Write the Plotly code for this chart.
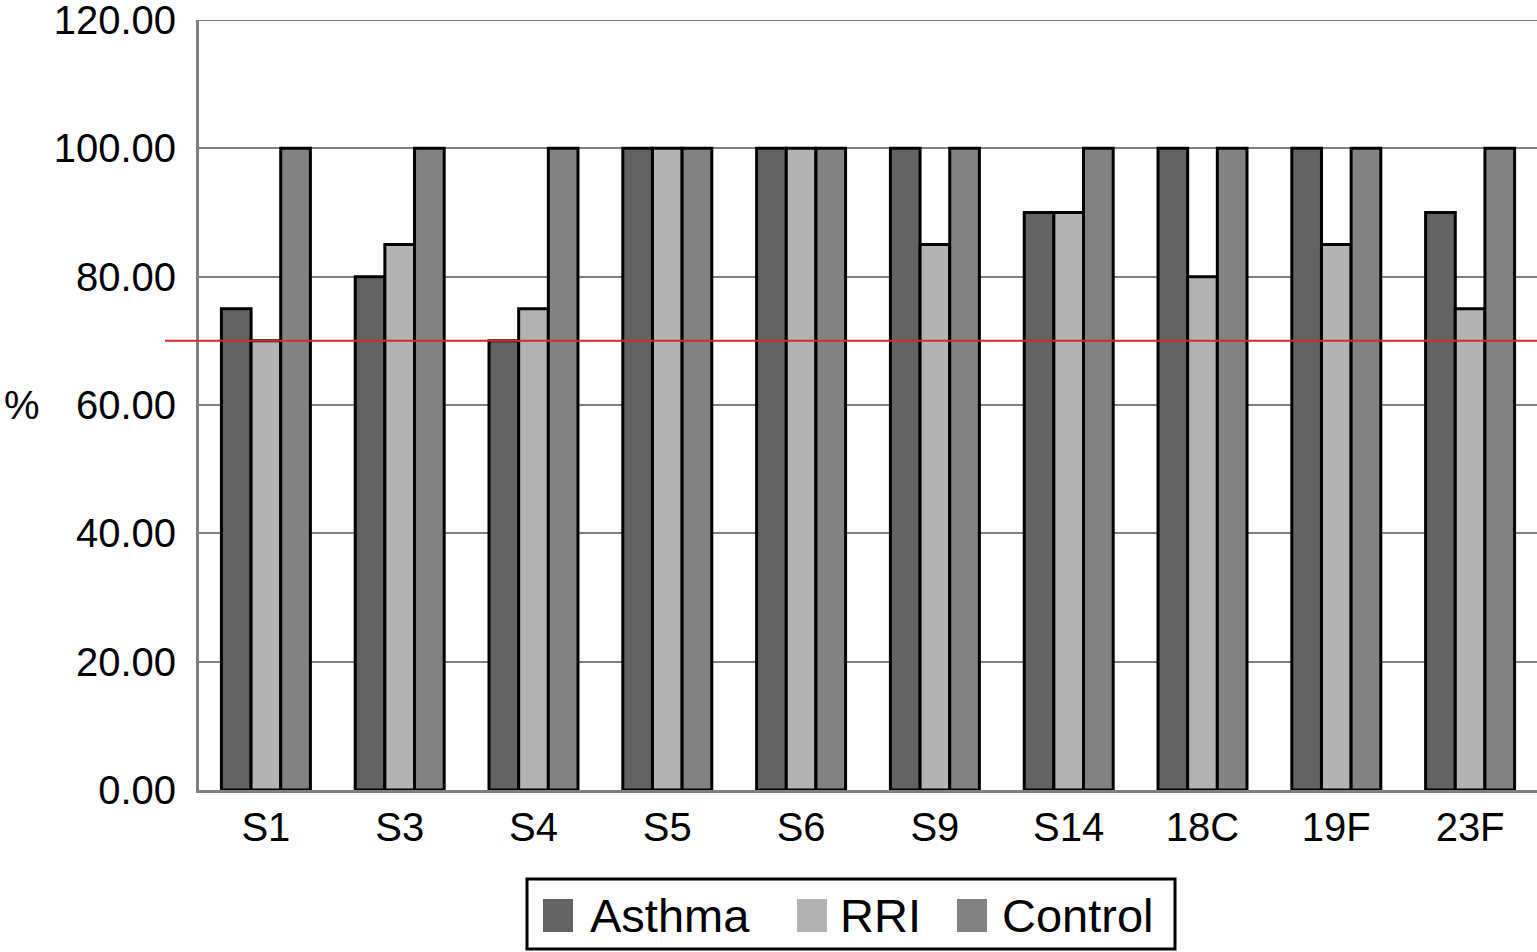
import plotly.graph_objects as go

categories = ["S1", "S3", "S4", "S5", "S6", "S9", "S14", "18C", "19F", "23F"]
asthma = [75, 80, 70, 100, 100, 100, 90, 100, 100, 90]
rri = [70, 85, 75, 100, 100, 85, 90, 80, 85, 75]
control = [100, 100, 100, 100, 100, 100, 100, 100, 100, 100]
threshold = 70
series_names = ["Asthma", "RRI", "Control"]
series_colors = ["#636363", "#b3b3b3", "#828282"]
y_ticks = [0, 20, 40, 60, 80, 100, 120]
y_tick_labels = ["0.00", "20.00", "40.00", "60.00", "80.00", "100.00", "120.00"]
y_max = 120

W, H = 1537, 952
L, R, T, B = 199, 0, 20, 162
PW, PH = W - L - R, H - T - B

def px(x):
    return (x - L) / PW

def py(y):
    return (H - B - y) / PH

FONT = "Liberation Sans, Arial, Helvetica, sans-serif"

fig = go.Figure()
for name, vals, col in zip(series_names, [asthma, rri, control], series_colors):
    fig.add_trace(go.Bar(
        x=categories, y=vals, name=name,
        marker=dict(color=col, line=dict(color="black", width=3)),
        showlegend=False,
    ))

shapes = [
    dict(type="line", xref="paper", yref="y", x0=0, x1=1, y0=y_max, y1=y_max,
         line=dict(color="#808080", width=2), layer="below"),
    dict(type="line", xref="paper", yref="y", x0=px(165), x1=1, y0=threshold, y1=threshold,
         line=dict(color="#d42a2a", width=2)),
    dict(type="rect", xref="paper", yref="paper", x0=px(527), x1=px(1175), y0=py(879), y1=py(949),
         line=dict(color="black", width=3), fillcolor="white"),
]
annotations = [
    dict(text="%", xref="paper", yref="paper", x=px(22), y=py(405), showarrow=False,
         font=dict(family=FONT, size=40, color="black"), xanchor="center", yanchor="middle"),
]
leg_sq_x = [543, 797, 957]
leg_tx_x = [588, 838, 1000]
for name, col, sx, tx in zip(series_names, series_colors, leg_sq_x, leg_tx_x):
    shapes.append(dict(type="rect", xref="paper", yref="paper", x0=px(sx), x1=px(sx + 30),
                       y0=py(932), y1=py(899), line=dict(width=0), fillcolor=col))
    annotations.append(dict(text=name, xref="paper", yref="paper", x=px(tx), y=py(915),
                            showarrow=False, xanchor="left", yanchor="middle",
                            font=dict(family=FONT, size=47, color="black")))

fig.update_layout(
    width=W, height=H,
    margin=dict(l=L, r=R, t=T, b=B, pad=0, autoexpand=False),
    paper_bgcolor="white", plot_bgcolor="white",
    barmode="group", bargap=0.335, bargroupgap=0,
    font=dict(family=FONT, size=40, color="black"),
    shapes=shapes, annotations=annotations,
    xaxis=dict(showgrid=False, showline=True, linecolor="#808080", linewidth=3,
               ticks="", tickfont=dict(size=40), fixedrange=True, automargin=False),
    yaxis=dict(range=[0, y_max], tickvals=y_ticks, ticktext=y_tick_labels,
               showgrid=True, gridcolor="#808080", gridwidth=2,
               showline=True, linecolor="#808080", linewidth=3,
               ticks="", ticklabelstandoff=12, tickfont=dict(size=40), zeroline=False,
               ticklabeloverflow="allow", automargin=False),
)

fig.write_html("out.html", config={"displayModeBar": False},
               post_script="document.body.style.margin='0px';")
